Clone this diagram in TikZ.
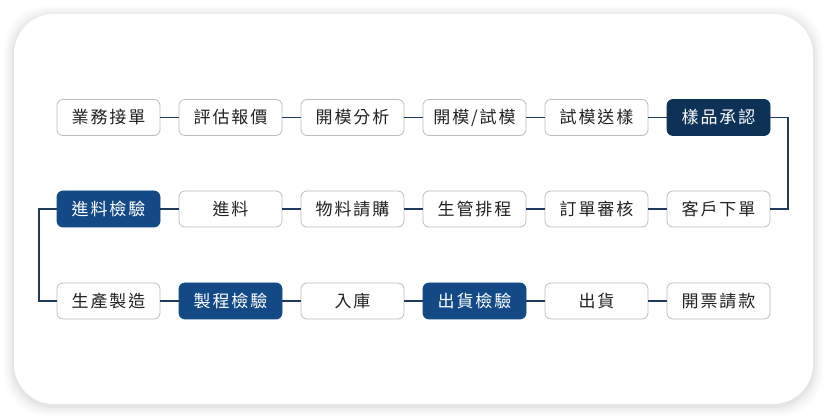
\documentclass[tikz,border=0pt]{standalone}
\usepackage{fontspec}
\newfontfamily\cjk[LetterSpace=11]{Noto Sans CJK TC}
\definecolor{navy}{HTML}{0D3157}
\definecolor{midblue}{HTML}{134A85}
\definecolor{conn}{HTML}{1F3A5F}
\definecolor{boxline}{HTML}{BDBDBD}
\definecolor{txt}{HTML}{222222}
\tikzset{
  stepbox/.style={draw=boxline, line width=0.8pt, rounded corners=6pt, fill=white,
    minimum width=103pt, minimum height=36pt, inner sep=0pt, text=txt,
    font=\cjk\fontsize{17}{19}\selectfont},
  darkbox/.style={stepbox, draw=navy, fill=navy, text=white},
  bluebox/.style={stepbox, draw=midblue, fill=midblue, text=white},
  link/.style={draw=conn, line width=1.8pt}
}
\begin{document}
\begin{tikzpicture}[x=1pt,y=-1pt]
\useasboundingbox (0,0) rectangle (830,419);
\fill[white] (0,0) rectangle (830,419);
% shadow
\foreach \i/\o in {10/0.012,8/0.015,6/0.018,4/0.022,2/0.03}{
  \fill[black,opacity=\o,rounded corners=42pt] (14-\i,14-\i+2) rectangle (813+\i,404+\i+2);
}
\fill[white,rounded corners=40pt] (14,14) rectangle (813,404);
% row 1
\node[stepbox] (a1) at (108.5,117.5) {業務接單};
\node[stepbox] (a2) at (230.5,117.5) {評估報價};
\node[stepbox] (a3) at (352.5,117.5) {開模分析};
\node[stepbox] (a4) at (474.5,117.5) {開模/試模};
\node[stepbox] (a5) at (596.5,117.5) {試模送樣};
\node[darkbox] (a6) at (718.5,117.5) {樣品承認};
% row 2
\node[bluebox] (b1) at (108.5,209) {進料檢驗};
\node[stepbox] (b2) at (230.5,209) {進料};
\node[stepbox] (b3) at (352.5,209) {物料請購};
\node[stepbox] (b4) at (474.5,209) {生管排程};
\node[stepbox] (b5) at (596.5,209) {訂單審核};
\node[stepbox] (b6) at (718.5,209) {客戶下單};
% row 3
\node[stepbox] (c1) at (108.5,301) {生產製造};
\node[bluebox] (c2) at (230.5,301) {製程檢驗};
\node[stepbox] (c3) at (352.5,301) {入庫};
\node[bluebox] (c4) at (474.5,301) {出貨檢驗};
\node[stepbox] (c5) at (596.5,301) {出貨};
\node[stepbox] (c6) at (718.5,301) {開票請款};
\coordinate (r1) at (788,117.5);
\coordinate (r2) at (788,209);
\coordinate (l1) at (39,209);
\coordinate (l2) at (39,301);
\draw[link] (a1) -- (a2);
\draw[link] (a2) -- (a3);
\draw[link] (a3) -- (a4);
\draw[link] (a4) -- (a5);
\draw[link] (a5) -- (a6);
\draw[link] (a6.east) -- (r1) -- (r2) -- (b6.east);
\draw[link] (b6) -- (b5);
\draw[link] (b5) -- (b4);
\draw[link] (b4) -- (b3);
\draw[link] (b3) -- (b2);
\draw[link] (b2) -- (b1);
\draw[link] (b1.west) -- (l1) -- (l2) -- (c1.west);
\draw[link] (c1) -- (c2);
\draw[link] (c2) -- (c3);
\draw[link] (c3) -- (c4);
\draw[link] (c4) -- (c5);
\draw[link] (c5) -- (c6);
\end{tikzpicture}
\end{document}
